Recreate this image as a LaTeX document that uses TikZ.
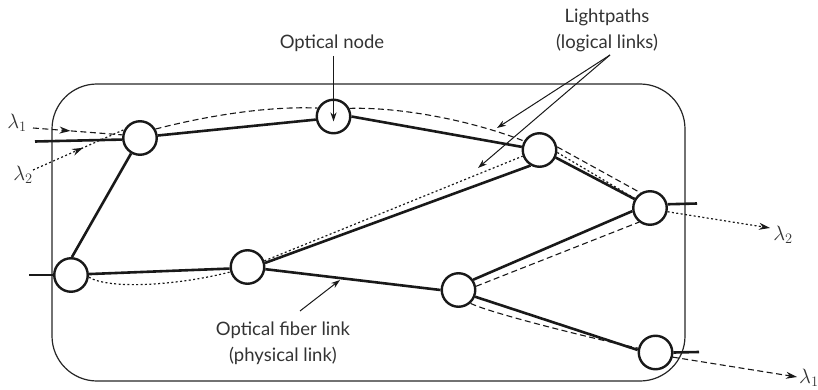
\documentclass[tikz,border=0pt]{standalone}
\usepackage{fontspec}
\setmainfont{Lato}
\usetikzlibrary{arrows.meta,decorations.markings,calc}
\begin{document}
\begin{tikzpicture}[x=1pt,y=-1pt,
  txt/.style={text=black!80, font=\fontsize{18.5}{26}\selectfont, inner sep=0pt},
  lam/.style={text=black!80, font=\fontsize{22}{24}\selectfont, inner sep=0pt},
  onode/.style={circle, draw=black!90, line width=2.4pt, fill=white, minimum size=33.5pt, inner sep=0pt},
  fiber/.style={line width=2.6pt, draw=black!90},
  lpa/.style={line width=1.1pt, draw=black!90, dash pattern=on 6pt off 3.5pt},
  lpb/.style={line width=1.2pt, draw=black!90, dash pattern=on 2pt off 2.4pt},
  endtip/.style={-{Stealth[length=11pt,width=7pt]}},
  midtip/.style={postaction={decorate,decoration={markings,mark=at position #1 with {\arrow{Stealth[length=11pt,width=7pt]}}}}},
  ann/.style={line width=1pt, draw=black!90, -{Stealth[length=9pt,width=6pt]}}]
\useasboundingbox (0,0) rectangle (818,390);
% enclosure
\draw[line width=1.2pt, black!85, rounded corners=45pt] (52,84) rectangle (685,381);
% optical nodes
\node[onode] (A) at (140,138) {};
\node[onode] (B) at (333.5,116.5) {};
\node[onode] (C) at (539.5,150) {};
\node[onode] (D) at (650,208) {};
\node[onode] (E) at (71,275) {};
\node[onode] (F) at (247.5,267) {};
\node[onode] (G) at (458.5,290) {};
\node[onode] (H) at (655.5,352.5) {};
% stub ends
\coordinate (As) at (35,141.5);
\coordinate (Es) at (29,275);
\coordinate (Ds) at (697,203.5);
\coordinate (Hs) at (699,352);
% fiber links
\draw[fiber] (As) -- (A.185);
\draw[fiber] (A.8) -- (B.190);
\draw[fiber] (B.0) -- (C.170);
\draw[fiber] (C.-25) -- (D.150);
\draw[fiber] (D.12) -- (Ds);
\draw[fiber] (A.240) -- (E.87);
\draw[fiber] (Es) -- (E.180);
\draw[fiber] (E.3) -- (F.185);
\draw[fiber] (F.13) -- (C.240);
\draw[fiber] (F.-7) -- (G.180);
\draw[fiber] (G.35) -- (D.190);
\draw[fiber] (G.-22) -- (H.172);
\draw[fiber] (H.0) -- (Hs);
% lightpath lambda 1 (dashed)
\coordinate (l1in) at (33,128);
\coordinate (l1out) at (797,377);
\draw[lpa, midtip=0.42] (l1in) -- (A.170);
\draw[lpa] (A.30) .. controls (210,115) and (270,106) .. (B.152);
\draw[lpa] (B.27) .. controls (400,107) and (470,120) .. (C.150);
\draw[lpa] (C.10) -- (D.122);
\draw[lpa] (G.12) -- (D.232);
\draw[lpa] (G.-48) .. controls (490,313) and (590,338) .. (H.166);
\draw[lpa, endtip] (H.-15) -- (l1out);
% lightpath lambda 2 (dotted)
\coordinate (l2in) at (33,170);
\coordinate (l2out) at (770,228);
\draw[lpb, midtip=0.55] (l2in) -- (A.152);
\draw[lpb] (E.-7) .. controls (110,290) and (180,285) .. (F.196);
\draw[lpb] (F.20) -- (C.200);
\draw[lpb] (C.-8) -- (D.148);
\draw[lpb, endtip] (D.-12) -- (l2out);
% labels
\node[txt] (on) at (332,43) {Optical node};
\node[txt, align=center] (lp) at (607,30) {Lightpaths\\(logical links)};
\node[txt, align=center] (fl) at (283,343) {Optical fiber link\\(physical link)};
\coordinate (ono) at (333.5,56);
\coordinate (ont) at ($(B.center)+(0,5)$);
\draw[ann] (ono) -- (ont);
\coordinate (lpo) at (610,55);
\coordinate (lpt1) at (497,128);
\coordinate (lpt2) at (478,168);
\draw[ann] (lpo) -- (lpt1);
\draw[ann] (lpo) -- (lpt2);
\coordinate (flo) at (300,311);
\coordinate (flt) at (340,280);
\draw[ann] (flo) -- (flt);
% wavelength labels
\node[lam] (la1) at (17,123) {$\lambda_1$};
\node[lam] (la2) at (23,175) {$\lambda_2$};
\node[lam] (lb2) at (783,235) {$\lambda_2$};
\node[lam, anchor=west] (lb1) at (799,378) {$\lambda_1$};
\end{tikzpicture}
\end{document}
